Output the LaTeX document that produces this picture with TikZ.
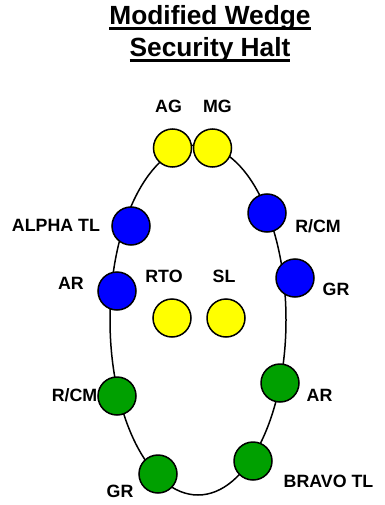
\documentclass[tikz,border=0pt]{standalone}
\usepackage{fontspec}
\setmainfont{Liberation Sans}
\usetikzlibrary{shapes.geometric}
\newcommand\myul[1]{\setbox0\hbox{#1}\rlap{\rule[-5.5pt]{\wd0}{3pt}}\box0}
\definecolor{yel}{RGB}{255,255,0}
\definecolor{blu}{RGB}{0,0,255}
\definecolor{grn}{RGB}{0,160,0}
\tikzset{
  man/.style={circle, draw=black, line width=1.5pt, minimum size=38pt, inner sep=0pt},
  lbl/.style={anchor=base, inner sep=0pt, font=\fontsize{17.8}{20}\selectfont\bfseries},
  ttl/.style={anchor=base, inner sep=0pt, font=\fontsize{26.3}{30}\selectfont\bfseries},
  ring/.style={line width=1.5pt, draw=black}
}
\begin{document}
\begin{tikzpicture}[x=1pt,y=-1pt]
\useasboundingbox (0,0) rectangle (384,505);
\node[ttl] (t1) at (210,25) {\myul{Modified Wedge}};
\node[ttl] (t2) at (210,57) {\myul{Security Halt}};
\node[ring, ellipse, minimum width=176pt, minimum height=350pt, inner sep=0pt] (wedge) at (198,320) {};
% yellow
\node[man, fill=yel] (ag) at (172.5,148) {};
\node[man, fill=yel] (mg) at (212.5,148) {};
\node[man, fill=yel] (rto) at (172,318) {};
\node[man, fill=yel] (sl) at (226,318) {};
% blue
\node[man, fill=blu] (alpha) at (131,226) {};
\node[man, fill=blu] (rcma) at (267,213) {};
\node[man, fill=blu] (ara) at (117,291) {};
\node[man, fill=blu] (gra) at (295,278) {};
% green
\node[man, fill=grn] (rcmb) at (117,396) {};
\node[man, fill=grn] (arb) at (280,383) {};
\node[man, fill=grn] (grb) at (158,474) {};
\node[man, fill=grn] (bravo) at (253,461) {};
% labels
\node[lbl] (lag) at (168.5,113) {AG};
\node[lbl] (lmg) at (217.5,113) {MG};
\node[lbl] (lalpha) at (56,231) {ALPHA TL};
\node[lbl] (lara) at (71,289) {AR};
\node[lbl] (lrto) at (164,282) {RTO};
\node[lbl] (lsl) at (224,282) {SL};
\node[lbl] (lrcma) at (318,232) {R/CM};
\node[lbl] (lgra) at (336,295) {GR};
\node[lbl] (lrcmb) at (74.5,401) {R/CM};
\node[lbl] (larb) at (319.5,401) {AR};
\node[lbl] (lgrb) at (120,497) {GR};
\node[lbl] (lbravo) at (328.5,487) {BRAVO TL};
\end{tikzpicture}
\end{document}
